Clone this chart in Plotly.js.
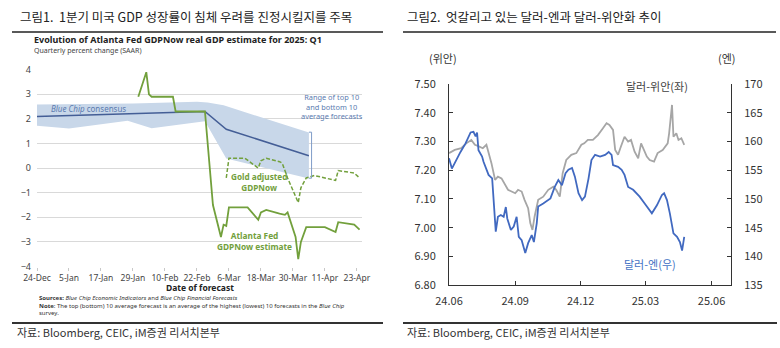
<!DOCTYPE html>
<html><head><meta charset="utf-8">
<script src="https://cdn.plot.ly/plotly-3.0.1.min.js"></script>
<style>html,body{margin:0;padding:0;background:#fff;} #chart{width:780px;height:348px;}</style>
</head><body><div id="chart"></div>
<script>
// ---------- Left chart: GDPNow ----------
const gdpNowDates = ['2025-01-31','2025-02-03','2025-02-04','2025-02-05','2025-02-13','2025-02-14','2025-02-25','2025-02-28','2025-03-03','2025-03-04','2025-03-05','2025-03-06','2025-03-13','2025-03-17','2025-03-18','2025-03-20','2025-03-25','2025-03-27','2025-03-28','2025-03-31','2025-04-01','2025-04-02','2025-04-04','2025-04-11','2025-04-15','2025-04-16','2025-04-22','2025-04-24'];
const gdpNowValues = [2.9,3.9,3.0,2.9,2.9,2.3,2.3,-1.5,-2.8,-2.3,-2.35,-1.6,-1.6,-2.1,-1.8,-1.7,-1.85,-1.9,-1.8,-2.8,-3.7,-3.0,-2.4,-2.4,-2.6,-2.2,-2.3,-2.5];
const goldDates = ['2025-03-05','2025-03-06','2025-03-12','2025-03-17','2025-03-18','2025-03-20','2025-03-25','2025-03-26','2025-03-28','2025-04-01','2025-04-02','2025-04-04','2025-04-07','2025-04-09','2025-04-15','2025-04-16','2025-04-22','2025-04-24'];
const goldValues = [-0.4,0.4,0.4,0.0,0.3,0.4,0.26,0.2,-0.4,-1.4,-0.8,-0.4,-0.3,-0.35,-0.5,-0.1,-0.2,-0.4];
const consensusDates = ['2024-12-24','2025-02-25','2025-03-05','2025-04-05'];
const consensusValues = [2.1,2.3,1.58,0.5];
const bandUpperDates = ['2024-12-24','2025-01-29','2025-02-22','2025-02-26','2025-03-04','2025-04-05'];
const bandUpperValues = [2.59,2.63,2.7,2.67,2.55,1.45];
const bandLowerDates = ['2024-12-24','2025-01-05','2025-01-27','2025-02-05','2025-02-25','2025-03-05','2025-04-05'];
const bandLowerValues = [1.72,1.61,1.92,1.62,1.9,0.39,-0.42];
const leftTickStart = '2024-12-24';

// ---------- Right chart: USD/CNY & USD/JPY ----------
const cnyDates = ['2024-06-01','2024-06-09','2024-06-18','2024-06-25','2024-07-02','2024-07-07','2024-07-11','2024-07-18','2024-07-23','2024-07-27','2024-07-30','2024-08-04','2024-08-08','2024-08-13','2024-08-18','2024-08-22','2024-08-27','2024-09-01','2024-09-05','2024-09-10','2024-09-14','2024-09-19','2024-09-22','2024-09-25','2024-09-28','2024-10-03','2024-10-10','2024-10-17','2024-10-24','2024-10-28','2024-11-02','2024-11-06','2024-11-11','2024-11-18','2024-11-25','2024-12-02','2024-12-06','2024-12-11','2024-12-18','2024-12-25','2025-01-01','2025-01-06','2025-01-10','2025-01-15','2025-01-18','2025-01-22','2025-01-26','2025-01-31','2025-02-05','2025-02-09','2025-02-14','2025-02-19','2025-02-23','2025-02-26','2025-03-03','2025-03-07','2025-03-13','2025-03-18','2025-03-25','2025-04-01','2025-04-03','2025-04-07','2025-04-09','2025-04-13','2025-04-16','2025-04-20','2025-04-24'];
const cnyValues = [7.260,7.271,7.277,7.294,7.306,7.289,7.285,7.277,7.289,7.254,7.225,7.167,7.178,7.172,7.149,7.132,7.126,7.120,7.132,7.126,7.097,7.068,7.016,6.992,7.039,7.097,7.108,7.132,7.143,7.132,7.108,7.190,7.236,7.254,7.260,7.289,7.294,7.306,7.306,7.323,7.347,7.364,7.358,7.341,7.271,7.254,7.283,7.317,7.300,7.306,7.265,7.242,7.294,7.277,7.248,7.236,7.230,7.260,7.271,7.294,7.329,7.428,7.317,7.329,7.306,7.312,7.289];
const jpyDates = ['2024-06-01','2024-06-05','2024-06-17','2024-06-24','2024-07-01','2024-07-05','2024-07-08','2024-07-10','2024-07-12','2024-07-17','2024-07-19','2024-07-26','2024-07-31','2024-08-02','2024-08-05','2024-08-08','2024-08-12','2024-08-16','2024-08-19','2024-08-21','2024-08-26','2024-08-30','2024-09-03','2024-09-06','2024-09-10','2024-09-15','2024-09-19','2024-09-24','2024-09-27','2024-10-01','2024-10-03','2024-10-10','2024-10-20','2024-10-26','2024-10-31','2024-11-05','2024-11-10','2024-11-14','2024-11-19','2024-11-23','2024-11-28','2024-12-03','2024-12-07','2024-12-12','2024-12-16','2024-12-21','2024-12-28','2025-01-04','2025-01-09','2025-01-13','2025-01-15','2025-01-22','2025-01-27','2025-01-31','2025-02-05','2025-02-12','2025-02-21','2025-02-28','2025-03-10','2025-03-17','2025-03-24','2025-03-27','2025-03-31','2025-04-04','2025-04-09','2025-04-14','2025-04-18','2025-04-21','2025-04-24'];
const jpyValues = [157.1,155.3,158.2,159.7,161.6,161.7,160.9,161.6,158.5,157.4,156.5,154.2,153.6,150.4,144.3,146.9,147.2,146.9,148.6,146.6,144.6,145.2,146.9,143.4,142.8,140.6,142.3,143.7,142.5,145.8,148.7,149.2,150.1,152.1,153.3,152.4,154.5,155.1,155.4,153.9,151.0,149.8,150.4,153.6,156.8,157.7,157.4,157.7,158.2,157.7,155.9,155.6,155.1,154.2,152.1,151.6,150.4,149.2,147.5,148.9,150.7,151.0,149.8,147.5,144.0,143.4,142.5,141.0,143.4];

const W = 780, H = 348;
const px = x => x / W;
const py = y => 1 - y / H;
const green = '#72a03c';
const blueTxt = '#5b7bb0';
const kr = '"Noto Sans CJK KR", "Noto Sans", sans-serif';
const lat = '"Noto Sans", "Open Sans", sans-serif';

const traces = [
  { x: bandUpperDates.concat(bandLowerDates.slice().reverse()),
    y: bandUpperValues.concat(bandLowerValues.slice().reverse()),
    xaxis: 'x', yaxis: 'y', type: 'scatter', mode: 'lines', fill: 'toself',
    fillcolor: 'rgb(200,215,233)', line: {width: 0}, hoverinfo: 'skip' },
  { x: consensusDates, y: consensusValues, xaxis: 'x', yaxis: 'y', type: 'scatter', mode: 'lines',
    line: {color: '#445e96', width: 1.5} },
  { x: goldDates, y: goldValues, xaxis: 'x', yaxis: 'y', type: 'scatter', mode: 'lines',
    line: {color: green, width: 1.5, dash: '4px,2px'} },
  { x: gdpNowDates, y: gdpNowValues, xaxis: 'x', yaxis: 'y', type: 'scatter', mode: 'lines',
    line: {color: green, width: 1.8} },
  { x: cnyDates, y: cnyValues, xaxis: 'x2', yaxis: 'y2', type: 'scatter', mode: 'lines',
    line: {color: '#a6a6a6', width: 1.8} },
  { x: jpyDates, y: jpyValues, xaxis: 'x2', yaxis: 'y3', type: 'scatter', mode: 'lines',
    line: {color: '#4169c0', width: 1.8} }
];

function ann(x, y, text, size, color, opts) {
  return Object.assign({xref: 'paper', yref: 'paper', x: px(x), y: py(y), text: text, showarrow: false,
    xanchor: 'left', yanchor: 'middle', font: {size: size, color: color, family: lat}}, opts || {});
}

const annotations = [
  ann(18, 17, '그림1.  1분기 미국 GDP 성장률이 침체 우려를 진정시킬지를 주목', 12.5, '#222', {font: {size: 12.5, color: '#222', family: kr}}),
  ann(405, 17, '그림2.  엇갈리고 있는 달러-엔과 달러-위안화 추이', 12.5, '#222', {font: {size: 12.5, color: '#222', family: kr}}),
  ann(32, 40, '<b>Evolution of Atlanta Fed GDPNow real GDP estimate for 2025: Q1</b>', 9, '#222'),
  ann(32, 50, 'Quarterly percent change (SAAR)', 7, '#444'),
  ann(49, 109, '<i>Blue Chip</i> consensus', 8, blueTxt),
  ann(331.7, 106.7, 'Range of top 10<br>and bottom 10<br>average forecasts', 7.4, blueTxt, {xanchor: 'center'}),
  ann(259.3, 182, '<b>Gold adjusted</b><br><b>GDPNow</b>', 8.2, green, {xanchor: 'center'}),
  ann(254, 240.5, '<b>Atlanta Fed</b><br><b>GDPNow estimate</b>', 8.3, green, {xanchor: 'center'}),
  ann(200, 287, '<b>Date of forecast</b>', 8.5, '#222', {xanchor: 'center'}),
  ann(37, 297.5, '<b>Sources:</b> <i>Blue Chip Economic Indicators</i> and <i>Blue Chip Financial Forecasts</i>', 6, '#333'),
  ann(37, 305.5, '<b>Note</b>: The top (bottom) 10 average forecast is an average of the highest (lowest) 10 forecasts in the <i>Blue Chip</i>', 6, '#333'),
  ann(37, 313, 'survey.', 6, '#333'),
  ann(15, 332, '자료: Bloomberg, CEIC, iM증권 리서치본부', 11, '#333', {font: {size: 11, color: '#333', family: kr}}),
  ann(405, 332, '자료: Bloomberg, CEIC, iM증권 리서치본부', 11, '#333', {font: {size: 11, color: '#333', family: kr}}),
  ann(443, 58, '(위안)', 11, '#333', {xanchor: 'center', font: {size: 11, color: '#333', family: kr}}),
  ann(727, 58, '(엔)', 11, '#333', {xanchor: 'center', font: {size: 11, color: '#333', family: kr}}),
  ann(656.7, 86, '달러-위안(좌)', 11, '#404040', {xanchor: 'center', font: {size: 11, color: '#404040', family: kr}}),
  ann(650, 264, '달러-엔(우)', 11, '#4472c4', {xanchor: 'center', font: {size: 11, color: '#4472c4', family: kr}})
];

const shapes = [
  {type: 'line', xref: 'paper', yref: 'paper', x0: px(12), x1: px(383), y0: py(32), y1: py(32), line: {color: '#222', width: 1.5}},
  {type: 'line', xref: 'paper', yref: 'paper', x0: px(403), x1: px(776), y0: py(32), y1: py(32), line: {color: '#222', width: 1.5}},
  {type: 'line', xref: 'paper', yref: 'paper', x0: px(12), x1: px(383), y0: py(323), y1: py(323), line: {color: '#333', width: 2}},
  {type: 'line', xref: 'paper', yref: 'paper', x0: px(403), x1: px(777), y0: py(323), y1: py(323), line: {color: '#333', width: 2}},
  {type: 'path', xref: 'x', yref: 'y', path: 'M 2025-04-05,1.46 L 2025-04-06,1.46 L 2025-04-06,-0.41 L 2025-04-05,-0.41', line: {color: '#7f9cc8', width: 1}},
  {type: 'path', xref: 'x', yref: 'y', path: 'M 2025-04-06,0.5 L 2025-04-07 12:00,0.5 L 2025-04-10 14:00,1.78', line: {color: '#7f9cc8', width: 1}}
];

const layout = {
  width: W, height: H, margin: {l: 0, r: 0, t: 0, b: 0},
  paper_bgcolor: '#fff', plot_bgcolor: 'rgba(0,0,0,0)', showlegend: false,
  font: {family: lat, color: '#555'},
  xaxis: {domain: [px(37), px(362)], anchor: 'y', type: 'date',
    range: ['2024-12-24', '2025-04-24 22:00'], tick0: leftTickStart, dtick: 12 * 86400000,
    tickformat: '%-d-%b', tickangle: 0, tickfont: {size: 8.5, color: '#444', family: lat},
    ticks: 'outside', ticklen: 3, tickcolor: '#c8c8c8', showgrid: false, showline: false, zeroline: false},
  yaxis: {domain: [py(266.5), py(69.7)], anchor: 'x', range: [-4, 4], dtick: 1,
    tickfont: {size: 9, color: '#444', family: lat}, gridcolor: '#d9d9d9', gridwidth: 1,
    zeroline: false, showline: false, ticks: '', ticklabelstandoff: 5},
  xaxis2: {domain: [px(449), px(731)], anchor: 'y2', type: 'date',
    range: ['2024-06-01', '2025-06-28'], tick0: '2024-06-01', dtick: 'M3', tickformat: '%y.%m', tickangle: 0,
    tickfont: {size: 11, color: '#333', family: kr}, ticks: 'inside', ticklen: 4, tickcolor: '#333',
    showline: true, linecolor: '#333', linewidth: 1, showgrid: false, zeroline: false, ticklabelstandoff: 6},
  yaxis2: {domain: [py(285), py(84.3)], anchor: 'x2', range: [6.8, 7.5], dtick: 0.1, tickformat: '.2f',
    tickfont: {size: 11, color: '#333', family: kr}, ticks: 'inside', ticklen: 4, tickcolor: '#333',
    showline: true, linecolor: '#333', linewidth: 1, showgrid: false, zeroline: false, ticklabelstandoff: 10},
  yaxis3: {domain: [py(285), py(84.3)], anchor: 'x2', overlaying: 'y2', side: 'right', range: [135, 170], dtick: 5,
    tickfont: {size: 11, color: '#333', family: kr}, ticks: 'inside', ticklen: 4, tickcolor: '#333',
    showline: true, linecolor: '#333', linewidth: 1, showgrid: false, zeroline: false, ticklabelstandoff: 10},
  annotations: annotations, shapes: shapes
};

Plotly.newPlot('chart', traces, layout, {staticPlot: true, displayModeBar: false});
</script>
</body></html>
